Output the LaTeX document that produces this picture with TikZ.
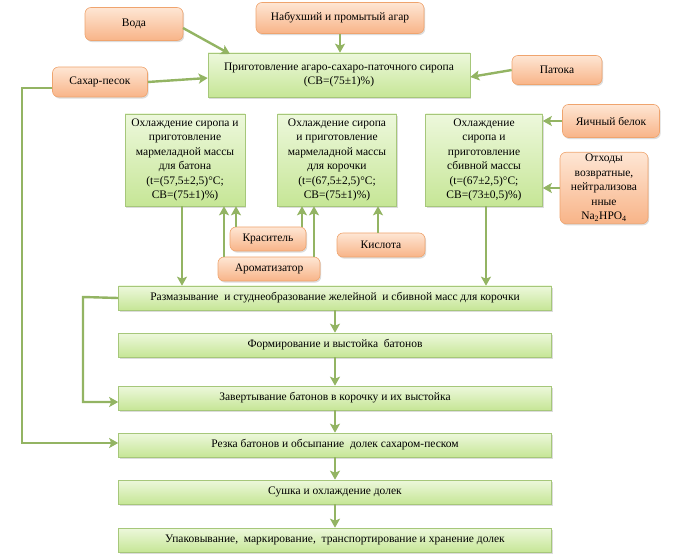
\documentclass[tikz,border=0pt]{standalone}
\usepackage{fontspec}
\setmainfont{Liberation Serif}
\newfontfamily\boxfont{Liberation Serif}
\usetikzlibrary{arrows.meta,shadows}
\definecolor{gfillT}{HTML}{EDF8DC}
\definecolor{gfillB}{HTML}{C6E696}
\definecolor{gdraw}{HTML}{A6C77A}
\definecolor{ofillT}{HTML}{FEE6D4}
\definecolor{ofillB}{HTML}{F8B488}
\definecolor{odraw}{HTML}{EFA46E}
\definecolor{arr}{HTML}{93B463}
\tikzset{
  gbox/.style={draw=gdraw, line width=0.6pt, top color=gfillT, bottom color=gfillB,
    align=center, inner sep=2pt, font=\boxfont\fontsize{11.5}{14.5}\selectfont,
    drop shadow={shadow xshift=1.2pt, shadow yshift=-1.6pt, opacity=0.3, fill=black!45}},
  obox/.style={draw=odraw, line width=0.6pt, top color=ofillT, bottom color=ofillB,
    rounded corners=6pt, align=center, inner sep=2pt, font=\boxfont\fontsize{11.5}{14.5}\selectfont,
    drop shadow={shadow xshift=1.2pt, shadow yshift=-1.6pt, opacity=0.3, fill=black!45}},
  flow/.style={draw=arr, line width=2.4pt, -{Stealth[length=9pt,width=10pt,inset=2pt]}},
}
\begin{document}
\begin{tikzpicture}[x=1pt,y=-1pt]
\useasboundingbox (0,0) rectangle (683,556);
% top inputs
\node[obox, minimum width=98pt, minimum height=33pt] (voda) at (134,24) {Вода};
\node[obox, minimum width=168pt, minimum height=31pt] (agar) at (340,18) {Набухший и промытый агар};
\node[gbox, minimum width=262pt, minimum height=44pt] (syrup) at (339,75) {Приготовление агаро-сахаро-паточного сиропа\\(СВ=(75±1)\%)};
\node[obox, minimum width=90pt, minimum height=29pt] (patoka) at (557,70) {Патока};
\node[obox, minimum width=95pt, minimum height=30pt] (sahar) at (100,82) {Сахар-песок};
% second row
\node[gbox, minimum width=120pt, minimum height=92pt] (boxA) at (185,160) {Охлаждение сиропа и\\приготовление\\мармеладной массы\\для батона\\(t=(57,5±2,5)°С;\\СВ=(75±1)\%)};
\node[gbox, minimum width=119pt, minimum height=92pt] (boxB) at (337,160) {Охлаждение сиропа\\и приготовление\\мармеладной массы\\для корочки\\(t=(67,5±2,5)°С;\\СВ=(75±1)\%)};
\node[gbox, minimum width=117pt, minimum height=92pt] (boxC) at (484,160) {Охлаждение\\сиропа и\\приготовление\\сбивной массы\\(t=(67±2,5)°С;\\СВ=(73±0,5)\%)};
\node[obox, minimum width=97pt, minimum height=33pt] (belok) at (611,121) {Яичный белок};
\node[obox, minimum width=88pt, minimum height=66pt] (othody) at (604,188) {Отходы\\возвратные,\\нейтрализова\\нные\\Na\textsubscript{2}HPO\textsubscript{4}};
\node[obox, minimum width=76pt, minimum height=24pt] (krasitel) at (268,239) {Краситель};
\node[obox, minimum width=88pt, minimum height=24pt] (kislota) at (381,245) {Кислота};
\node[obox, minimum width=102pt, minimum height=24pt] (aromat) at (269,269) {Ароматизатор};
% main chain
\node[gbox, minimum width=433pt, minimum height=24pt] (s1) at (335,298) {Размазывание\ \ и студнеобразование желейной\ \ и сбивной масс для корочки};
\node[gbox, minimum width=433pt, minimum height=24pt] (s2) at (335,345) {Формирование и выстойка\ \ батонов};
\node[gbox, minimum width=433pt, minimum height=24pt] (s3) at (335,398) {Завертывание батонов в корочку и их выстойка};
\node[gbox, minimum width=433pt, minimum height=24pt] (s4) at (335,445) {Резка батонов и обсыпание\ \ долек сахаром-песком};
\node[gbox, minimum width=433pt, minimum height=24pt] (s5) at (335,492) {Сушка и охлаждение долек};
\node[gbox, minimum width=433pt, minimum height=24pt] (s6) at (335,540) {Упаковывание,\ \ маркирование,\ \ транспортирование и хранение долек};
% coordinates for bends
\coordinate (sl) at (22,88);
\coordinate (rl) at (83,297);
\coordinate (vs) at (183,28);
\coordinate (ve) at (230,54);
% arrows to syrup
\draw[flow] (vs) -- (ve);
\draw[flow] (agar.south) -- (agar.south |- syrup.north);
\draw[flow] (sahar.east) -- (syrup.west |- 0,78);
\draw[flow] (patoka.west) -- (syrup.east |- 0,77);
% second row inputs
\draw[flow] (belok.west) -- (boxC.east |- belok.west);
\draw[flow] (othody.west) -- (boxC.east |- othody.west);
\draw[flow] (krasitel.north -| 236,0) -- (boxA.south -| 236,0);
\draw[flow] (krasitel.north -| 302,0) -- (boxB.south -| 302,0);
\draw[flow] (aromat.north -| 224,0) -- (boxA.south -| 224,0);
\draw[flow] (aromat.north -| 314,0) -- (boxB.south -| 314,0);
\draw[flow] (kislota.north -| 378,0) -- (boxB.south -| 378,0);
% down to s1
\draw[flow] (boxA.south -| 182,0) -- (s1.north -| 182,0);
\draw[flow] (boxC.south -| 486,0) -- (s1.north -| 486,0);
% chain
\draw[flow] (s1) -- (s2);
\draw[flow] (s2) -- (s3);
\draw[flow] (s3) -- (s4);
\draw[flow] (s4) -- (s5);
\draw[flow] (s5) -- (s6);
% loops
\draw[flow] (s1.west) -- (rl) |- (s3.west |- 0,402);
\draw[flow] (sahar.west |- sl) -- (sl) |- (s4.west |- 0,443);
\end{tikzpicture}
\end{document}
